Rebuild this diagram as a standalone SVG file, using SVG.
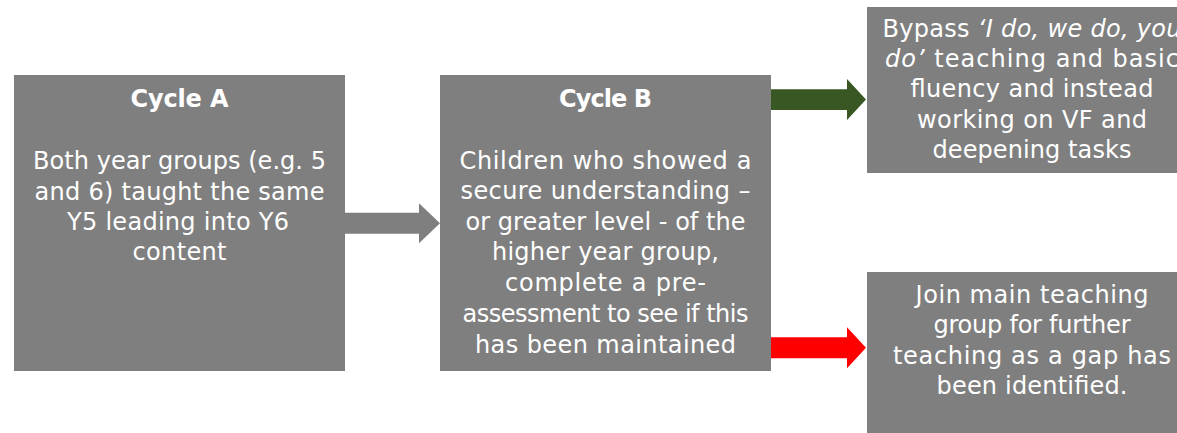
<svg xmlns="http://www.w3.org/2000/svg" width="1177" height="433" viewBox="0 0 1177 433">
<style>
.box{fill:#7f7f7f}
.t{font-family:"DejaVu Sans","Liberation Sans",sans-serif;font-size:24px;fill:#ffffff;text-anchor:middle}
.b{font-weight:bold}
.i{font-style:italic}
</style>
<rect width="1177" height="433" fill="#ffffff"/>
<g id="connectors">
<polygon id="arrow-a-b" fill="#7f7f7f" points="345,212.7 419,212.7 419,203.3 440,223.3 419,243.3 419,233.7 345,233.7"/>
<polygon id="arrow-b-c" fill="#385723" points="771,89.3 847,89.3 847,79 866,99.5 847,120 847,110 771,110"/>
<polygon id="arrow-b-d" fill="#ff0000" points="771,337.3 847,337.3 847,327.3 866,347.8 847,368.3 847,358.3 771,358.3"/>
</g>
<g id="cycleA">
<rect class="box" x="14" y="75" width="331" height="296"/>
<text class="t b" x="179.5" y="106.5" textLength="98" lengthAdjust="spacing">Cycle A</text>
<text class="t" x="179.5" y="169" textLength="293" lengthAdjust="spacing">Both year groups (e.g. 5</text>
<text class="t" x="179.5" y="199.5" textLength="290" lengthAdjust="spacing">and 6) taught the same</text>
<text class="t" x="178" y="229.5" textLength="222" lengthAdjust="spacing">Y5 leading into Y6</text>
<text class="t" x="179.5" y="260" textLength="94" lengthAdjust="spacing">content</text>
</g>
<g id="cycleB">
<rect class="box" x="440" y="75" width="331" height="296"/>
<text class="t b" x="605.5" y="106.5" textLength="93" lengthAdjust="spacing">Cycle B</text>
<text class="t" x="605.5" y="168.5" textLength="292" lengthAdjust="spacing">Children who showed a</text>
<text class="t" x="605.5" y="199" textLength="290" lengthAdjust="spacing">secure understanding –</text>
<text class="t" x="605.5" y="229.5" textLength="280" lengthAdjust="spacing">or greater level - of the</text>
<text class="t" x="605.5" y="260" textLength="227" lengthAdjust="spacing">higher year group,</text>
<text class="t" x="605.5" y="291" textLength="201" lengthAdjust="spacing">complete  a pre-</text>
<text class="t" x="605.5" y="321.5" textLength="286" lengthAdjust="spacing">assessment to see if this</text>
<text class="t" x="605.5" y="352.5" textLength="261" lengthAdjust="spacing">has been maintained</text>
</g>
<g id="bypass">
<rect class="box" x="867" y="7" width="330" height="166"/>
<text class="t" x="1032" y="37" textLength="299" lengthAdjust="spacing">Bypass <tspan class="i">‘I do, we do, you</tspan></text>
<text class="t" x="1032" y="67" textLength="294" lengthAdjust="spacing"><tspan class="i">do’</tspan> teaching and basic</text>
<text class="t" x="1032" y="97" textLength="243" lengthAdjust="spacing">fluency and instead</text>
<text class="t" x="1032" y="127.5" textLength="230" lengthAdjust="spacing">working on VF and</text>
<text class="t" x="1032" y="158" textLength="199" lengthAdjust="spacing">deepening tasks</text>
</g>
<g id="join">
<rect class="box" x="867" y="272" width="330" height="170"/>
<text class="t" x="1032" y="302.5" textLength="233" lengthAdjust="spacing">Join main teaching</text>
<text class="t" x="1032" y="333" textLength="197" lengthAdjust="spacing">group for further</text>
<text class="t" x="1032" y="363.5" textLength="278" lengthAdjust="spacing">teaching as a gap has</text>
<text class="t" x="1032" y="394" textLength="191" lengthAdjust="spacing">been identified.</text>
</g>
</svg>
